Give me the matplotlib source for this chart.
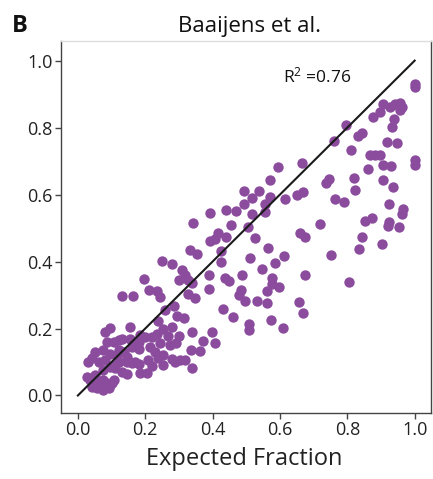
import matplotlib
matplotlib.use("Agg")
import matplotlib.pyplot as plt

plt.rcParams['font.family'] = ['Open Sans', 'DejaVu Sans']
plt.rcParams['mathtext.fontset'] = 'custom'
plt.rcParams['mathtext.rm'] = 'Open Sans'
plt.rcParams['mathtext.it'] = 'Open Sans'

expected = [
    # upper right
    1.00, 1.00, 0.905, 0.928, 0.942, 0.957, 0.962, 0.957, 0.898, 0.875, 0.940, 0.933,
    0.796, 0.843, 0.833, 0.759, 0.918, 0.949, 0.811, 0.868, 0.883, 0.896, 1.00, 1.00,
    0.906, 0.930, 0.860, 0.747, 0.737, 0.819, 0.906, 0.937, 0.822, 0.764, 0.791, 0.925,
    0.964, 0.962, 0.720, 0.853, 0.873, 0.925, 0.921, 0.952, 0.845, 0.836, 0.903, 0.752,
    0.806,
    # middle
    0.593, 0.665, 0.569, 0.492, 0.517, 0.539, 0.569, 0.616, 0.652, 0.667, 0.492, 0.556,
    0.556, 0.393, 0.440, 0.469, 0.517, 0.343, 0.454, 0.505, 0.660, 0.675, 0.393, 0.408,
    0.416, 0.440, 0.525, 0.564, 0.334, 0.353, 0.425, 0.425, 0.512, 0.613, 0.586, 0.546,
    0.388, 0.487, 0.673, 0.437, 0.449, 0.576, 0.576, 0.596, 0.388, 0.485, 0.561, 0.339,
    0.348, 0.477, 0.497, 0.532, 0.563, 0.658, 0.668, 0.431, 0.460, 0.574, 0.509, 0.509,
    0.609, 0.339, 0.398, 0.371, 0.408, 0.337, 0.363, 0.339,
    # left middle
    0.249, 0.279, 0.197, 0.309, 0.319, 0.299, 0.328, 0.210, 0.235, 0.131, 0.165, 0.244,
    0.328, 0.259, 0.284, 0.239, 0.294, 0.314, 0.254, 0.279, 0.299, 0.269, 0.235, 0.220,
    0.155, 0.155, 0.180, 0.200, 0.131,
    # lower left cluster
    0.081, 0.096, 0.086, 0.106, 0.121, 0.051, 0.042, 0.075, 0.081, 0.063, 0.031, 0.096,
    0.116, 0.106, 0.121, 0.123, 0.138, 0.146, 0.146, 0.160, 0.170, 0.180, 0.170, 0.180,
    0.185, 0.175, 0.160, 0.051, 0.037, 0.027, 0.042, 0.056, 0.076, 0.091, 0.076, 0.096,
    0.106, 0.086, 0.046, 0.061, 0.076, 0.096, 0.111, 0.131, 0.146, 0.185, 0.206, 0.101,
    0.244, 0.274, 0.292, 0.215, 0.230, 0.253, 0.238, 0.279, 0.304, 0.319, 0.289, 0.254,
    0.209, 0.221,
]
observed = [
    0.930, 0.920, 0.869, 0.861, 0.869, 0.872, 0.861, 0.852, 0.847, 0.832, 0.827, 0.802,
    0.807, 0.784, 0.774, 0.759, 0.757, 0.754, 0.734, 0.717, 0.717, 0.719, 0.704, 0.687,
    0.687, 0.684, 0.675, 0.646, 0.635, 0.648, 0.643, 0.623, 0.614, 0.586, 0.578, 0.571,
    0.558, 0.541, 0.511, 0.520, 0.530, 0.518, 0.506, 0.503, 0.473, 0.436, 0.451, 0.419,
    0.339,
    0.682, 0.694, 0.643, 0.610, 0.591, 0.610, 0.593, 0.588, 0.598, 0.607, 0.571, 0.571,
    0.548, 0.545, 0.555, 0.550, 0.543, 0.515, 0.510, 0.503, 0.484, 0.472, 0.461, 0.466,
    0.484, 0.472, 0.469, 0.441, 0.434, 0.424, 0.432, 0.399, 0.412, 0.416, 0.397, 0.379,
    0.361, 0.361, 0.361, 0.352, 0.341, 0.351, 0.334, 0.325, 0.319, 0.316, 0.313, 0.336,
    0.291, 0.299, 0.282, 0.282, 0.276, 0.279, 0.247, 0.257, 0.233, 0.225, 0.212, 0.195,
    0.202, 0.190, 0.190, 0.163, 0.157, 0.137, 0.132, 0.081,
    0.402, 0.394, 0.347, 0.374, 0.359, 0.346, 0.346, 0.314, 0.313, 0.296, 0.296, 0.293,
    0.304, 0.255, 0.266, 0.222, 0.238, 0.231, 0.200, 0.205, 0.177, 0.177, 0.185, 0.175,
    0.205, 0.170, 0.160, 0.175, 0.170,
    0.190, 0.203, 0.160, 0.160, 0.165, 0.129, 0.111, 0.135, 0.105, 0.099, 0.099, 0.125,
    0.120, 0.090, 0.100, 0.135, 0.129, 0.115, 0.100, 0.096, 0.100, 0.093, 0.150, 0.140,
    0.180, 0.144, 0.144, 0.061, 0.046, 0.056, 0.026, 0.021, 0.016, 0.021, 0.046, 0.031,
    0.046, 0.036, 0.036, 0.041, 0.076, 0.085, 0.081, 0.070, 0.064, 0.066, 0.066, 0.036,
    0.156, 0.150, 0.156, 0.144, 0.129, 0.120, 0.111, 0.110, 0.105, 0.105, 0.099, 0.090,
    0.105, 0.087,
]
ticks = [0.0, 0.2, 0.4, 0.6, 0.8, 1.0]
tick_labels = ["0.0", "0.2", "0.4", "0.6", "0.8", "1.0"]
r2 = 0.76

fig = plt.figure(figsize=(4.33, 4.79), dpi=100)
ax = fig.add_axes([0.141, 0.138, 0.854, 0.776])

ax.scatter(expected, observed, s=56, color='#8B4C9E', linewidths=0, zorder=2)
ax.plot([0, 1], [0, 1], color='#1a1a1a', lw=1.5, zorder=3)

ax.set_xlim(-0.05, 1.048)
ax.set_ylim(-0.052, 1.058)
ax.set_xticks(ticks, tick_labels)
ax.set_yticks(ticks, tick_labels)
ax.tick_params(length=4, width=1, color='#444444', labelsize=13, pad=2,
               labelcolor='#222222')

for side in ['left', 'bottom', 'right']:
    ax.spines[side].set_color('#444444')
    ax.spines[side].set_linewidth(1)
ax.spines['top'].set_color('#dddddd')
ax.spines['top'].set_linewidth(1)

ax.text(0.61, 0.935, 'R$^{2}$ =%.2f' % r2, fontsize=12.5, va='baseline',
        ha='left', color='#111111')

fig.text(249 / 433, 1 - 32 / 479, 'Baaijens et al.', fontsize=16,
         ha='center', va='baseline', color='#111111')
fig.text(12 / 433, 1 - 32 / 479, 'B', fontsize=17, fontweight='bold',
         ha='left', va='baseline', color='#111111')
fig.text(244 / 433, 1 - 465 / 479, 'Expected Fraction', fontsize=17,
         ha='center', va='baseline', color='#222222')

fig.savefig('out.png', dpi=100)
